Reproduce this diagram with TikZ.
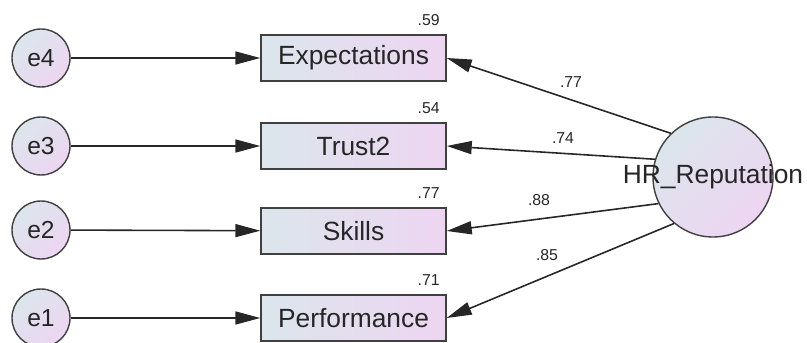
\documentclass[tikz,border=0pt]{standalone}
\usepackage{fontspec}
\setmainfont{Liberation Sans}
\usetikzlibrary{positioning,arrows.meta}
\definecolor{shadeblue}{HTML}{DCE6EC}
\definecolor{shadepink}{HTML}{EDD5F2}

\begin{document}
\begin{tikzpicture}[
    obsbox/.style={rectangle, draw=black!75, thick, minimum width=3.7cm, minimum height=0.92cm, left color=shadeblue, right color=shadepink, text=black!85, font=\fontsize{15}{18}\selectfont},
    errcirc/.style={circle, draw=black!75, thick, minimum size=1.16cm, inner sep=0pt, top color=shadeblue, bottom color=shadepink, shading angle=45, text=black!85, font=\fontsize{14}{17}\selectfont},
    latent/.style={errcirc, minimum size=2.4cm},
    coef/.style={inner sep=0pt, text=black!85, font=\fontsize{9}{11}\selectfont},
    arrow/.style={-{Triangle[length=0.5cm, width=0.26cm]}, line width=0.9pt, black!85}
]
\useasboundingbox (0,0) rectangle (16.14,6.84);

% Error terms
\node[errcirc] (e4) at (0.82, 5.68) {e4};
\node[errcirc] (e3) at (0.82, 3.92) {e3};
\node[errcirc] (e2) at (0.82, 2.24) {e2};
\node[errcirc] (e1) at (0.82, 0.48) {e1};

% Observed variables
\node[obsbox] (exp) at (7.07, 5.68) {Expectations};
\node[obsbox] (trust) at (7.07, 3.92) {Trust2};
\node[obsbox] (skills) at (7.07, 2.22) {Skills};
\node[obsbox] (perf) at (7.07, 0.48) {Performance};

% Squared multiple correlations
\node[coef, anchor=east] (r2exp) at (8.80, 6.44) {.59};
\node[coef, anchor=east] (r2trust) at (8.80, 4.68) {.54};
\node[coef, anchor=east] (r2skills) at (8.80, 2.98) {.77};
\node[coef, anchor=east] (r2perf) at (8.80, 1.24) {.71};

% Latent variable
\node[latent] (hr) at (14.26, 3.30) {};
\node[text=black!85, font=\fontsize{15}{18}\selectfont] (hrlabel) at (hr.center) {HR\_Reputation};

% Arrows from errors
\draw[arrow] (e4) -- (exp);
\draw[arrow] (e3) -- (trust);
\draw[arrow] (e2) -- (skills);
\draw[arrow] (e1) -- (perf);

% Loadings
\draw[arrow] (hr.134) -- (exp.east);
\draw[arrow] (hr.163) -- (trust.east);
\draw[arrow] (hr.206) -- (skills.east);
\draw[arrow] (hr.230) -- (perf.east);

\node[coef] (lexp) at (11.42, 5.20) {.77};
\node[coef] (ltrust) at (11.26, 4.08) {.74};
\node[coef] (lskills) at (10.78, 2.84) {.88};
\node[coef] (lperf) at (10.94, 1.74) {.85};

\end{tikzpicture}
\end{document}
